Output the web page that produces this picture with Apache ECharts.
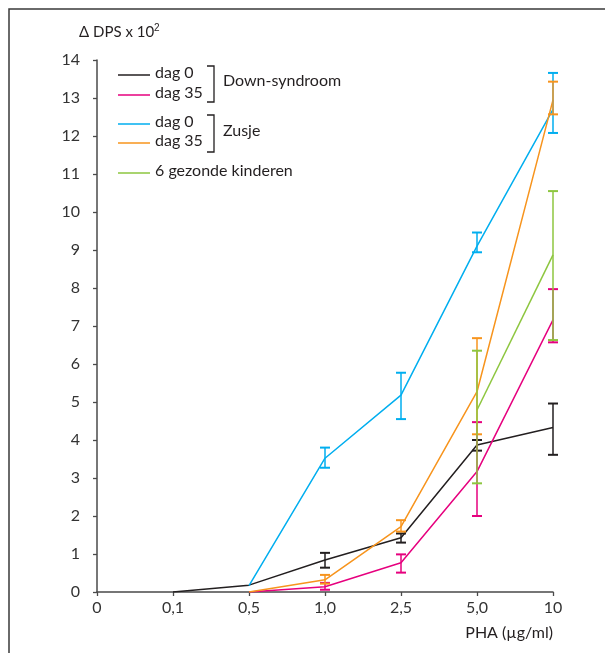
<!DOCTYPE html>
<html>
<head>
<meta charset="utf-8">
<script src="https://cdn.jsdelivr.net/npm/echarts@6/dist/echarts.min.js"></script>
<style>
  html, body { margin: 0; padding: 0; background: #fff; }
  #main { width: 605px; height: 653px; }
</style>
</head>
<body>
<div id="main"></div>
<script>
// PHA-concentraties (x-as)
var categories = ['0', '0,1', '0,5', '1,0', '2,5', '5,0', '10'];
var yTicks = [0, 14, 1];

// gemiddelden
var dsDag0    = [null, 0, 0.18, 0.84, 1.43, 3.87, 4.33];
var dsDag35   = [null, null, 0, 0.14, 0.77, 3.17, 7.16];
var zusDag0   = [null, null, 0.17, 3.52, 5.18, 9.10, 12.70];
var zusDag35  = [null, null, 0, 0.32, 1.72, 5.27, 12.95];
var gezond    = [null, null, null, null, null, 4.79, 8.87];

// foutbalken: boven- en ondergrens
var dsDag0Hi   = [null, null, null, 1.03, 1.54, 4.00, 4.96];
var dsDag0Lo   = [null, null, null, 0.64, 1.30, 3.72, 3.61];
var dsDag35Hi  = [null, null, null, 0.24, 0.99, 4.47, 7.97];
var dsDag35Lo  = [null, null, null, 0.06, 0.51, 2.00, 6.57];
var zusDag0Hi  = [null, null, null, 3.80, 5.77, 9.46, 13.66];
var zusDag0Lo  = [null, null, null, 3.27, 4.55, 8.94, 12.08];
var zusDag35Hi = [null, null, null, 0.45, 1.89, 6.68, 13.43];
var zusDag35Lo = [null, null, null, 0.22, 1.59, 4.15, 12.57];
var gezondHi   = [null, null, null, null, null, 6.35, 10.55];
var gezondLo   = [null, null, null, null, null, 2.86, 6.63];

var kleuren = {
  dsDag0: '#231f20',
  dsDag35: '#e6007e',
  zusDag0: '#00aeef',
  zusDag35: '#f7941d',
  gezond: '#8dc63f'
};

var FONT = 'Lato';

function lineSerie(name, data, color) {
  return {
    name: name,
    type: 'line',
    data: data,
    symbol: 'none',
    connectNulls: false,
    lineStyle: { color: color, width: 1.5 },
    z: 3,
    silent: true
  };
}

function errSerie(hi, lo, color) {
  var d = [];
  for (var i = 0; i < hi.length; i++) {
    if (hi[i] != null) d.push([i, lo[i], hi[i]]);
  }
  return {
    type: 'custom',
    data: d,
    z: 4,
    silent: true,
    renderItem: function (params, api) {
      var top = api.coord([api.value(0), api.value(2)]);
      var bot = api.coord([api.value(0), api.value(1)]);
      var w = 5;
      return {
        type: 'group',
        children: [
          { type: 'line', shape: { x1: top[0], y1: top[1], x2: bot[0], y2: bot[1] },
            style: { stroke: color, lineWidth: 2, opacity: 0.75 } },
          { type: 'line', shape: { x1: top[0] - w, y1: top[1], x2: top[0] + w, y2: top[1] },
            style: { stroke: color, lineWidth: 2 } },
          { type: 'line', shape: { x1: bot[0] - w, y1: bot[1], x2: bot[0] + w, y2: bot[1] },
            style: { stroke: color, lineWidth: 2 } }
        ]
      };
    }
  };
}

// legenda + titels als losse grafische elementen
function legendRow(y, color, label) {
  return [
    { type: 'line', shape: { x1: 118, y1: y, x2: 150, y2: y },
      style: { stroke: color, lineWidth: 1.5 } },
    { type: 'text', left: 155, top: y - 10,
      style: { text: label, font: '16px ' + FONT, fill: '#231f20' } }
  ];
}
function bracket(y1, y2) {
  return { type: 'polyline',
    shape: { points: [[207, y1], [214, y1], [214, y2], [207, y2]] },
    style: { stroke: '#231f20', lineWidth: 1.3, fill: null } };
}

var graphics = []
  .concat(legendRow(75, kleuren.dsDag0, 'dag 0'))
  .concat(legendRow(95, kleuren.dsDag35, 'dag 35'))
  .concat(legendRow(124, kleuren.zusDag0, 'dag 0'))
  .concat(legendRow(143, kleuren.zusDag35, 'dag 35'))
  .concat(legendRow(173, kleuren.gezond, '6 gezonde kinderen'))
  .concat([
    bracket(66, 102),
    bracket(115, 152),
    { type: 'text', left: 223, top: 73,
      style: { text: 'Down-syndroom', font: '16px ' + FONT, fill: '#231f20' } },
    { type: 'text', left: 223, top: 123,
      style: { text: 'Zusje', font: '16px ' + FONT, fill: '#231f20' } },
    { type: 'text', left: 79, top: 23,
      style: {
        text: 'Δ DPS x 10{s|2}',
        font: '15px ' + FONT, fill: '#231f20',
        rich: { s: { fontSize: 10, verticalAlign: 'top', padding: [0, 0, 8, 0], fill: '#231f20' } }
      } },
    { type: 'text', right: 52, top: 625,
      style: { text: 'PHA (µg/ml)', font: '16px ' + FONT, fill: '#231f20', align: 'right' } },
    { type: 'polyline',
      shape: { points: [[9, 660], [9, 9], [610, 9]] },
      style: { stroke: '#3a3a3a', lineWidth: 1.5, fill: null } }
  ]);

var chart = echarts.init(document.getElementById('main'), null, { renderer: 'canvas' });
chart.setOption({
  animation: false,
  backgroundColor: '#fff',
  textStyle: { fontFamily: FONT },
  grid: { left: 97, right: 52, top: 60, bottom: 61, containLabel: false },
  xAxis: {
    type: 'category',
    data: categories,
    boundaryGap: false,
    axisLine: { lineStyle: { color: '#4a4a4a', width: 1.5 } },
    axisTick: { show: true, length: 4, alignWithLabel: true, lineStyle: { color: '#4a4a4a', width: 1.3 } },
    axisLabel: { color: '#333', fontSize: 16, margin: 8, fontFamily: FONT },
    splitLine: { show: false }
  },
  yAxis: {
    type: 'value',
    min: yTicks[0], max: yTicks[1], interval: yTicks[2],
    axisLine: { show: true, lineStyle: { color: '#4a4a4a', width: 1.5 } },
    axisTick: { show: true, length: 4, lineStyle: { color: '#4a4a4a', width: 1.3 } },
    axisLabel: { color: '#333', fontSize: 16, margin: 17, fontFamily: FONT },
    splitLine: { show: false }
  },
  series: [
    lineSerie('DS dag 0', dsDag0, kleuren.dsDag0),
    lineSerie('DS dag 35', dsDag35, kleuren.dsDag35),
    lineSerie('Zusje dag 0', zusDag0, kleuren.zusDag0),
    lineSerie('Zusje dag 35', zusDag35, kleuren.zusDag35),
    lineSerie('6 gezonde kinderen', gezond, kleuren.gezond),
    errSerie(dsDag0Hi, dsDag0Lo, kleuren.dsDag0),
    errSerie(dsDag35Hi, dsDag35Lo, kleuren.dsDag35),
    errSerie(zusDag0Hi, zusDag0Lo, kleuren.zusDag0),
    errSerie(zusDag35Hi, zusDag35Lo, kleuren.zusDag35),
    errSerie(gezondHi, gezondLo, kleuren.gezond)
  ],
  graphic: graphics
});
</script>
</body>
</html>
